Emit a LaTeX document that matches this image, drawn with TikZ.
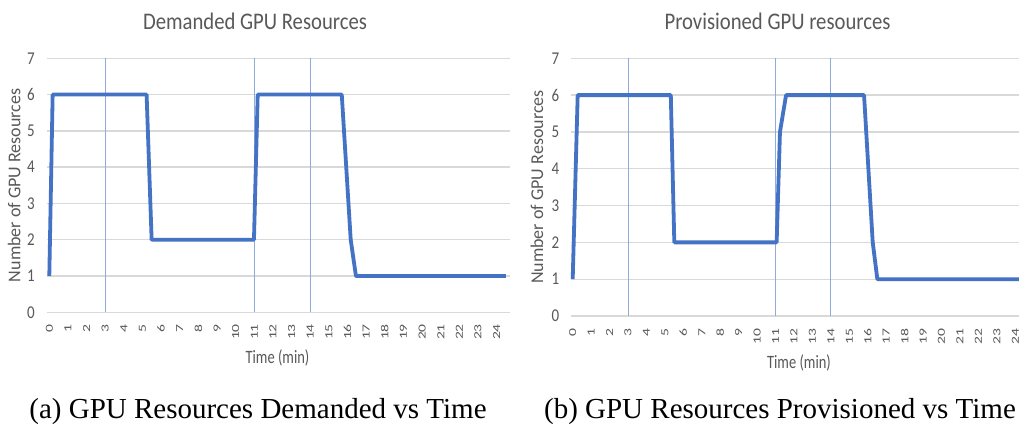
\documentclass[tikz,border=0pt]{standalone}
\usepackage{fontspec}
\newfontfamily\calib{Carlito}
\newfontfamily\tnr{Liberation Serif}
\definecolor{gridc}{HTML}{D9D9D9}
\definecolor{txtc}{HTML}{595959}
\definecolor{datac}{HTML}{4472C4}
\definecolor{vlc}{HTML}{8FAADC}
\tikzset{
  gridln/.style={draw=gridc, line width=1.3pt},
  vmark/.style={draw=vlc, line width=0.9pt},
  dataln/.style={draw=datac, line width=3.8pt, line join=round},
  ytick/.style={anchor=east, inner sep=0pt, text=txtc, font=\calib\fontsize{15}{18}\selectfont},
  xtick/.style={anchor=east, rotate=90, inner sep=0pt, text=txtc, font=\calib\fontsize{12}{14}\selectfont},
  ttl/.style={inner sep=0pt, text=txtc, font=\calib\fontsize{20.7}{24}\selectfont},
  axttl/.style={inner sep=0pt, text=txtc, font=\calib\fontsize{14.5}{17}\selectfont},
  yttl/.style={inner sep=0pt, rotate=90, text=txtc, font=\calib\fontsize{18}{21}\selectfont},
  capt/.style={inner sep=0pt, text=black, font=\tnr\fontsize{29}{34}\selectfont},
}
\begin{document}
\begin{tikzpicture}[x=1pt, y=-1pt]
\useasboundingbox[fill=white] (0,0) rectangle (1019,428);
\clip (0,0) rectangle (1019,428);
% ---------------- left chart ----------------
\node[ttl] (ltitle) at (255,21.7) {\scalebox{1}[1.15]{Demanded GPU Resources}};
\begin{scope}[shift={(49.3,312.3)}, x=18.64pt, y=36.29pt]
  \foreach \v in {0,...,7} {
    \draw[gridln] (-0.14,\v) -- (24.69,\v);
    \node[ytick] (ly\v) at (-0.77,\v) {\scalebox{1}[1.2]{\v}};
  }
  \foreach \t in {3,11,14} \draw[vmark] (\t,0) -- (\t,7);
  \foreach \t in {0,...,24}
    \node[xtick] (lx\t) at (\t,-0.32) {\scalebox{1.3}[0.9]{\t}};
  \draw[dataln] (0,1) -- (0.18,6) -- (5.22,6) -- (5.49,2) -- (10.98,2) -- (11.18,6)
    -- (15.69,6) -- (16.17,2) -- (16.45,1) -- (24.5,1);
  \node[yttl] (lyttl) at (-1.89,3.5) {Number of GPU Resources};
  \node[axttl] (lxttl) at (12.24,-1.25) {\scalebox{1}[1.3]{Time (min)}};
\end{scope}
% ---------------- right chart ----------------
\node[ttl] (rtitle) at (777.5,21.7) {\scalebox{1}[1.15]{Provisioned GPU resources}};
\begin{scope}[shift={(572.7,316)}, x=18.44pt, y=36.81pt]
  \foreach \v in {0,...,7} {
    \draw[gridln] (-0.09,\v) -- (25,\v);
    \node[ytick] (ry\v) at (-0.72,\v) {\scalebox{1}[1.2]{\v}};
  }
  \foreach \t in {3,11,14} \draw[vmark] (\t,0) -- (\t,7);
  \foreach \t in {0,...,24}
    \node[xtick] (rx\t) at (\t,-0.33) {\scalebox{1.3}[0.9]{\t}};
  \draw[dataln] (0,1) -- (0.27,6) -- (5.32,6) -- (5.51,2) -- (11.06,2) -- (11.24,5)
    -- (11.57,6) -- (15.8,6) -- (16.27,2) -- (16.52,1) -- (25,1);
  \node[yttl] (ryttl) at (-1.94,3.5) {Number of GPU Resources};
  \node[axttl] (rxttl) at (12.27,-1.27) {\scalebox{1}[1.3]{Time (min)}};
\end{scope}
% ---------------- captions ----------------
\node[capt, anchor=base] (capa) at (258,418) {(a) GPU Resources Demanded vs Time};
\node[capt, anchor=base] (capb) at (780,418) {(b) GPU Resources Provisioned vs Time};
\end{tikzpicture}
\end{document}
